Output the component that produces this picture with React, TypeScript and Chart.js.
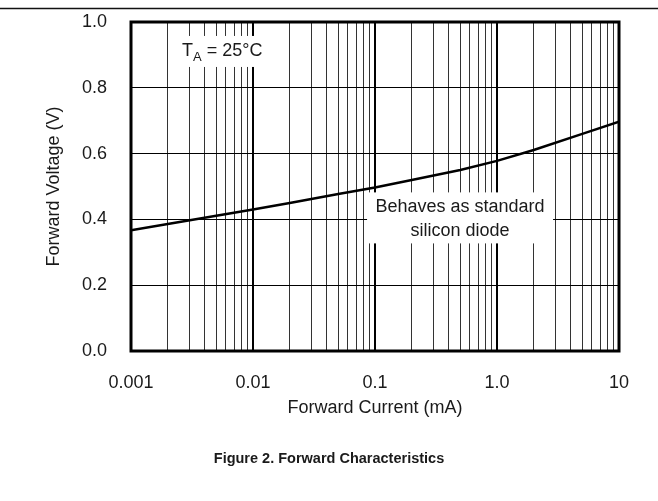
import { useEffect, useRef } from "react";
import { Chart, registerables } from "chart.js";

Chart.register(...registerables);

// ---- data ----
const forwardCurrentMA = [0.001, 0.002, 0.005, 0.01, 0.02, 0.05, 0.1, 0.2, 0.5, 1, 2, 5, 10];
const forwardVoltageV = [0.367, 0.386, 0.411, 0.43, 0.45, 0.477, 0.497, 0.52, 0.55, 0.578, 0.611, 0.66, 0.697];

const xDecades = [0.001, 0.01, 0.1, 1, 10];
const xTickLabels = ["0.001", "0.01", "0.1", "1.0", "10"];
const xMinorMultipliers = [2, 3, 4, 5, 6, 7, 8, 9];
const yTickValues = [0, 0.2, 0.4, 0.6, 0.8, 1.0];
const yTickLabels = ["0.0", "0.2", "0.4", "0.6", "0.8", "1.0"];

const xTitle = "Forward Current (mA)";
const yTitle = "Forward Voltage (V)";
const caption = "Figure 2. Forward Characteristics";
const noteTemp = { main: "T", sub: "A", rest: " = 25°C" };
const noteDiode = ["Behaves as standard", "silicon diode"];

const FONT = "'Liberation Sans', Arial, Helvetica, sans-serif";
const TEXT = "#1a1a1a";

function isDecade(v: number) {
  const l = Math.log10(v);
  return Math.abs(l - Math.round(l)) < 1e-6;
}

const gridValues: number[] = [];
xDecades.forEach((d, i) => {
  gridValues.push(d);
  if (i < xDecades.length - 1) xMinorMultipliers.forEach((m) => gridValues.push(d * m));
});
gridValues.sort((a, b) => a - b);

const decorPlugin = {
  id: "decor",
  beforeDraw(chart: any) {
    const { ctx, width } = chart;
    ctx.save();
    ctx.fillStyle = "#fff";
    ctx.fillRect(0, 0, chart.width, chart.height);
    // top rule
    ctx.strokeStyle = "#111";
    ctx.lineWidth = 1.5;
    ctx.beginPath();
    ctx.moveTo(0, 8.5);
    ctx.lineTo(width, 8.5);
    ctx.stroke();
    ctx.restore();
  },
  afterDatasetsDraw(chart: any) {
    const { ctx, chartArea, scales } = chart;
    const x = scales.x;
    const y = scales.y;
    ctx.save();

    // temperature note box
    const tx = x.getPixelForValue(0.00262);
    const ty = y.getPixelForValue(0.912);
    ctx.fillStyle = "#fff";
    ctx.fillRect(tx - 12, ty - 15, 105, 31);
    ctx.fillStyle = TEXT;
    ctx.textBaseline = "middle";
    ctx.textAlign = "left";
    ctx.font = `18px ${FONT}`;
    ctx.fillText(noteTemp.main, tx, ty);
    let cx = tx + ctx.measureText(noteTemp.main).width;
    ctx.font = `13px ${FONT}`;
    ctx.fillText(noteTemp.sub, cx, ty + 6);
    cx += ctx.measureText(noteTemp.sub).width;
    ctx.font = `18px ${FONT}`;
    ctx.fillText(noteTemp.rest, cx, ty);

    // diode note box
    const dx = x.getPixelForValue(0.498);
    const dy = y.getPixelForValue(0.4);
    ctx.fillStyle = "#fff";
    ctx.fillRect(dx - 93, dy - 27, 186, 51);
    ctx.fillStyle = TEXT;
    ctx.textAlign = "center";
    ctx.font = `18px ${FONT}`;
    ctx.fillText(noteDiode[0], dx, dy - 12);
    ctx.fillText(noteDiode[1], dx, dy + 12);

    // frame
    ctx.strokeStyle = "#000";
    ctx.lineWidth = 3;
    ctx.strokeRect(chartArea.left, chartArea.top, chartArea.right - chartArea.left, chartArea.bottom - chartArea.top);
    ctx.restore();
  },
  afterDraw(chart: any) {
    const { ctx, chartArea } = chart;
    ctx.save();
    ctx.fillStyle = TEXT;
    ctx.textBaseline = "middle";
    ctx.textAlign = "center";
    ctx.font = `18px ${FONT}`;
    ctx.fillText(xTitle, (chartArea.left + chartArea.right) / 2, 408);
    ctx.save();
    ctx.translate(54, (chartArea.top + chartArea.bottom) / 2);
    ctx.rotate(-Math.PI / 2);
    ctx.fillText(yTitle, 0, 0);
    ctx.restore();
    ctx.font = `bold 14.5px ${FONT}`;
    ctx.fillText(caption, 329, 459);
    ctx.restore();
  },
};

export default function App() {
  const ref = useRef<HTMLCanvasElement | null>(null);
  useEffect(() => {
    if (!ref.current) return;
    const chart = new Chart(ref.current, {
      type: "line",
      data: {
        datasets: [
          {
            data: forwardCurrentMA.map((c, i) => ({ x: c, y: forwardVoltageV[i] })),
            borderColor: "#000",
            borderWidth: 2.5,
            pointRadius: 0,
            tension: 0,
            fill: false,
          },
        ],
      },
      options: {
        animation: false,
        responsive: false,
        devicePixelRatio: 1,
        layout: { autoPadding: false, padding: { left: 0, top: 22, right: 39, bottom: 0 } },
        plugins: { legend: { display: false }, tooltip: { enabled: false }, title: { display: false } },
        scales: {
          x: {
            type: "logarithmic",
            min: 0.001,
            max: 10,
            afterBuildTicks: (scale: any) => {
              scale.ticks = gridValues.map((v) => ({ value: v }));
            },
            afterFit: (scale: any) => {
              scale.height = 150;
              scale.paddingLeft = 0;
              scale.paddingRight = 0;
              scale.paddingTop = 0;
              scale.paddingBottom = 0;
            },
            border: { display: false },
            grid: {
              drawTicks: false,
              color: (c: any) => (c.tick && isDecade(c.tick.value) ? "#000" : "#333"),
              lineWidth: (c: any) => (c.tick && isDecade(c.tick.value) ? 2 : 1),
            },
            ticks: {
              autoSkip: false,
              maxRotation: 0,
              padding: 21,
              color: TEXT,
              font: { family: FONT, size: 18 },
              callback: (v: any) => {
                const idx = xDecades.findIndex((d) => Math.abs(d - Number(v)) < d * 1e-6);
                return idx >= 0 ? xTickLabels[idx] : "";
              },
            },
          },
          y: {
            type: "linear",
            min: 0,
            max: 1,
            afterBuildTicks: (scale: any) => {
              scale.ticks = yTickValues.map((v) => ({ value: v }));
            },
            afterFit: (scale: any) => {
              scale.width = 131;
              scale.paddingLeft = 0;
              scale.paddingRight = 0;
              scale.paddingTop = 0;
              scale.paddingBottom = 0;
            },
            border: { display: false },
            grid: { drawTicks: false, color: "#000", lineWidth: 1 },
            ticks: {
              padding: 24,
              color: TEXT,
              font: { family: FONT, size: 18 },
              callback: (v: any) => {
                const idx = yTickValues.findIndex((t) => Math.abs(t - Number(v)) < 1e-6);
                return idx >= 0 ? yTickLabels[idx] : "";
              },
            },
          },
        },
      },
      plugins: [decorPlugin],
    } as any);
    return () => chart.destroy();
  }, []);
  return (
    <div style={{ position: "fixed", left: 0, top: 0, width: 658, height: 501, background: "#fff" }}>
      <canvas ref={ref} width={658} height={501} style={{ width: 658, height: 501, display: "block" }} />
    </div>
  );
}
